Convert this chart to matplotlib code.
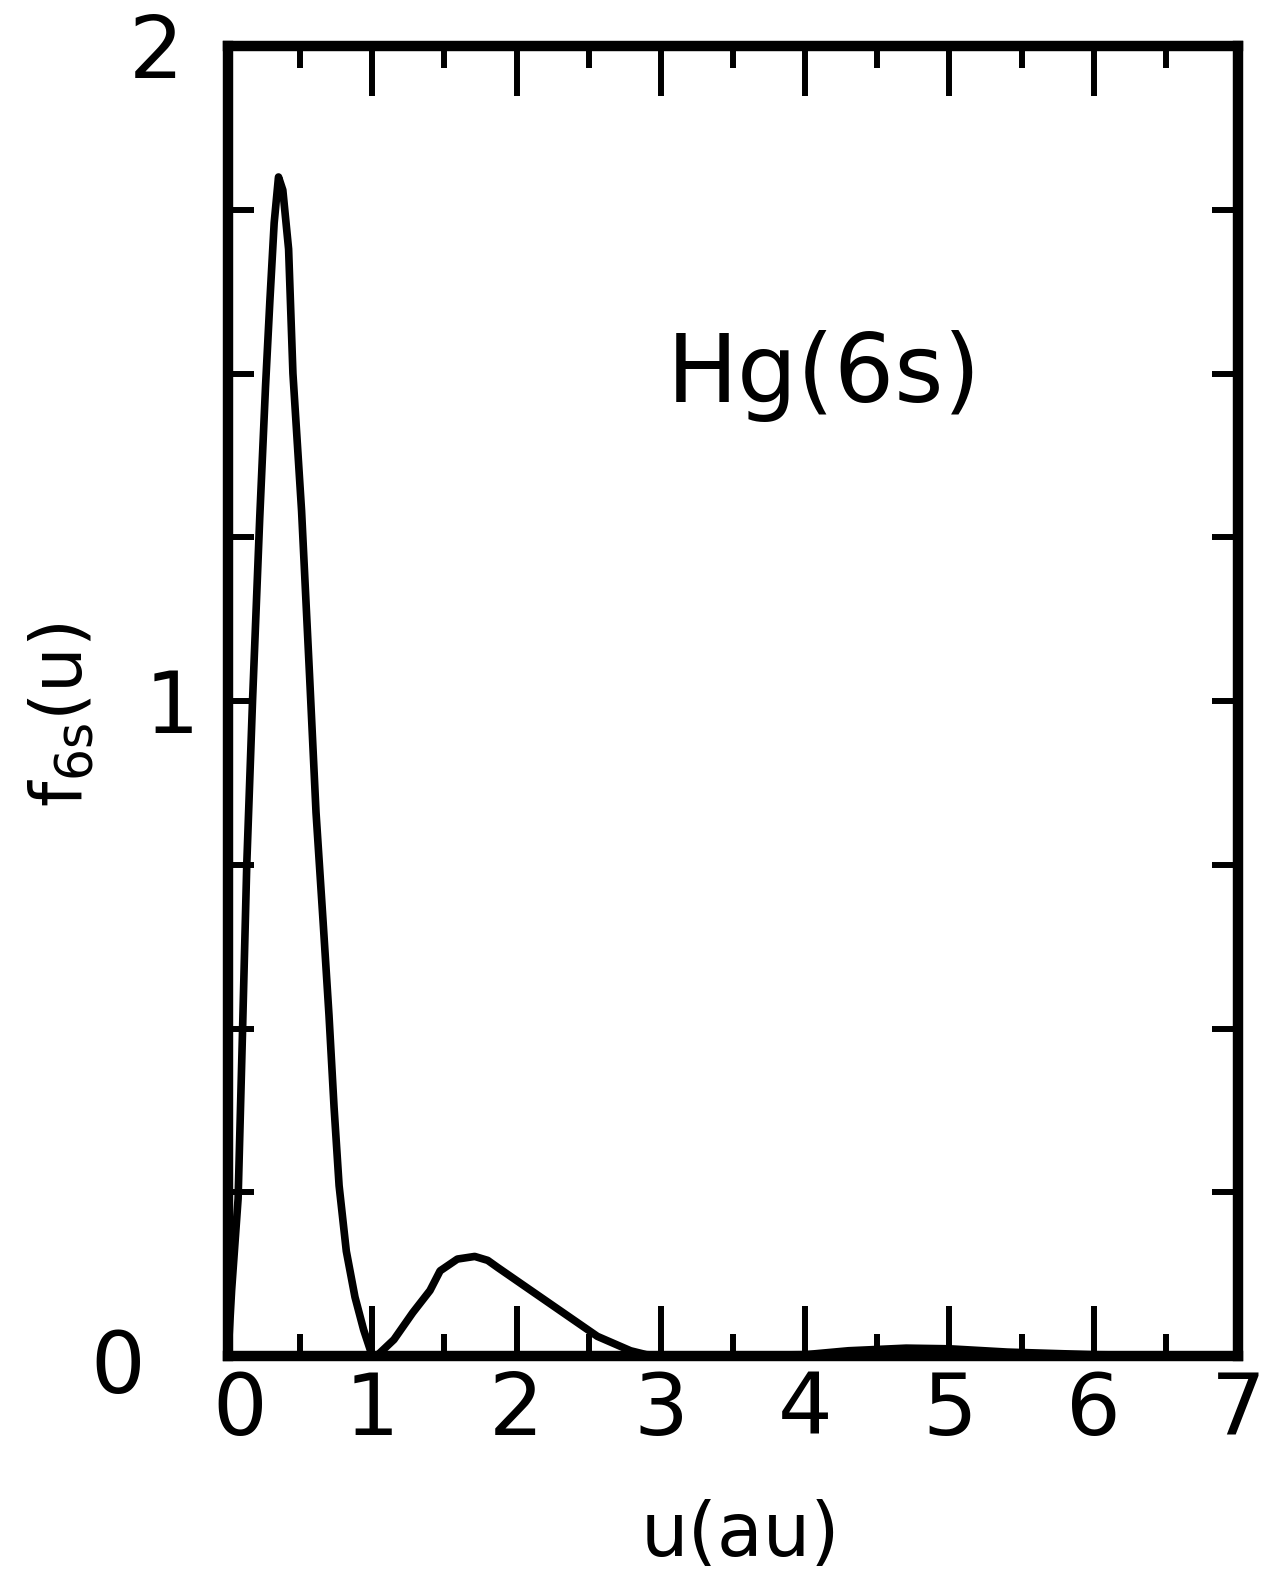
import matplotlib
matplotlib.use("Agg")
import matplotlib.pyplot as plt
import matplotlib.transforms as mtransforms
import numpy as np

# ---- data ----
u_vals = [0.0, 0.025, 0.07, 0.10, 0.13, 0.17, 0.22, 0.26, 0.29, 0.32, 0.35,
          0.38, 0.42, 0.45, 0.51, 0.565, 0.61, 0.66, 0.70, 0.735, 0.77, 0.82, 0.88, 0.94, 1.0,
          1.03, 1.15, 1.28, 1.40, 1.47, 1.59, 1.71, 1.80, 1.87, 2.10, 2.33, 2.56, 2.79, 2.90,
          3.0, 3.5, 4.0, 4.3, 4.7, 5.0, 5.4, 6.0, 6.5, 7.0]
f_vals = [0.0, 0.10, 0.24, 0.49, 0.75, 1.00, 1.28, 1.48, 1.61, 1.73, 1.80,
          1.78, 1.69, 1.50, 1.29, 1.04, 0.83, 0.66, 0.52, 0.38, 0.26, 0.16, 0.09, 0.04, 0.0,
          0.0, 0.025, 0.066, 0.10, 0.13, 0.148, 0.152, 0.146, 0.135, 0.10, 0.065, 0.03, 0.008, 0.002,
          0.001, 0.001, 0.002, 0.008, 0.012, 0.011, 0.006, 0.002, 0.001, 0.001]

x_major = [0, 1, 2, 3, 4, 5, 6, 7]
x_minor = [0.5, 1.5, 2.5, 3.5, 4.5, 5.5, 6.5]
x_labels = ["0", "1", "2", "3", "4", "5", "6", "7"]
y_ticks = [0, 0.25, 0.5, 0.75, 1.0, 1.25, 1.5, 1.75, 2.0]
y_labels = ["0", "", "", "", "1", "", "", "", "2"]

W, H = 1268, 1579
fig = plt.figure(figsize=(W / 100, H / 100), dpi=100)
plt.rcParams['font.family'] = ['DejaVu Sans']

left, right, top, bottom = 228, 1238, 46, 1356
ax = fig.add_axes([left / W, 1 - bottom / H, (right - left) / W, (bottom - top) / H])

ax.plot(u_vals, f_vals, color="black", lw=5.5, solid_joinstyle="round", solid_capstyle="round")

ax.set_xlim(0, 7)
ax.set_ylim(0, 2)

for s in ax.spines.values():
    s.set_linewidth(7.5)
    s.set_color("black")
    s.set_capstyle("projecting")

ax.set_xticks(x_major)
ax.set_xticklabels(x_labels)
ax.set_xticks(x_minor, minor=True)
ax.set_yticks(y_ticks)
ax.set_yticklabels(y_labels)

ax.tick_params(axis="x", which="major", direction="in", length=36, width=4.3,
               top=True, bottom=True, labelsize=62, pad=10, color="black")
ax.tick_params(axis="x", which="minor", direction="in", length=16, width=4.3,
               top=True, bottom=True)
ax.tick_params(axis="y", which="major", direction="in", length=19, width=4.3,
               left=True, right=True, labelsize=62, pad=32, color="black")

# individual tick label adjustments
dpi_scale = fig.dpi_scale_trans
ylabs = ax.get_yticklabels()
ylabs[0].set_transform(ylabs[0].get_transform() +
                       mtransforms.ScaledTranslation(-0.38, -0.05, dpi_scale))
ylabs[4].set_transform(ylabs[4].get_transform() +
                       mtransforms.ScaledTranslation(0.16, 0.0, dpi_scale))
xlabs = ax.get_xticklabels()
xlabs[0].set_transform(xlabs[0].get_transform() +
                       mtransforms.ScaledTranslation(0.12, 0.0, dpi_scale))

ax.set_xlabel("u(au)", fontsize=54)
ax.xaxis.set_label_coords((740 - left) / (right - left), -(1535 - bottom) / (bottom - top))
ax.xaxis.label.set_va("center")

ax.set_ylabel(r"f$_{\mathregular{6s}}$(u)", fontsize=52)
ax.yaxis.set_label_coords(-(left - 62) / (right - left), (bottom - 715) / (bottom - top))
ax.yaxis.label.set_va("center")

ax.text(0.59, 0.748, "Hg(6s)", transform=ax.transAxes, fontsize=68,
        ha="center", va="center")

fig.savefig("out.png", dpi=100)
